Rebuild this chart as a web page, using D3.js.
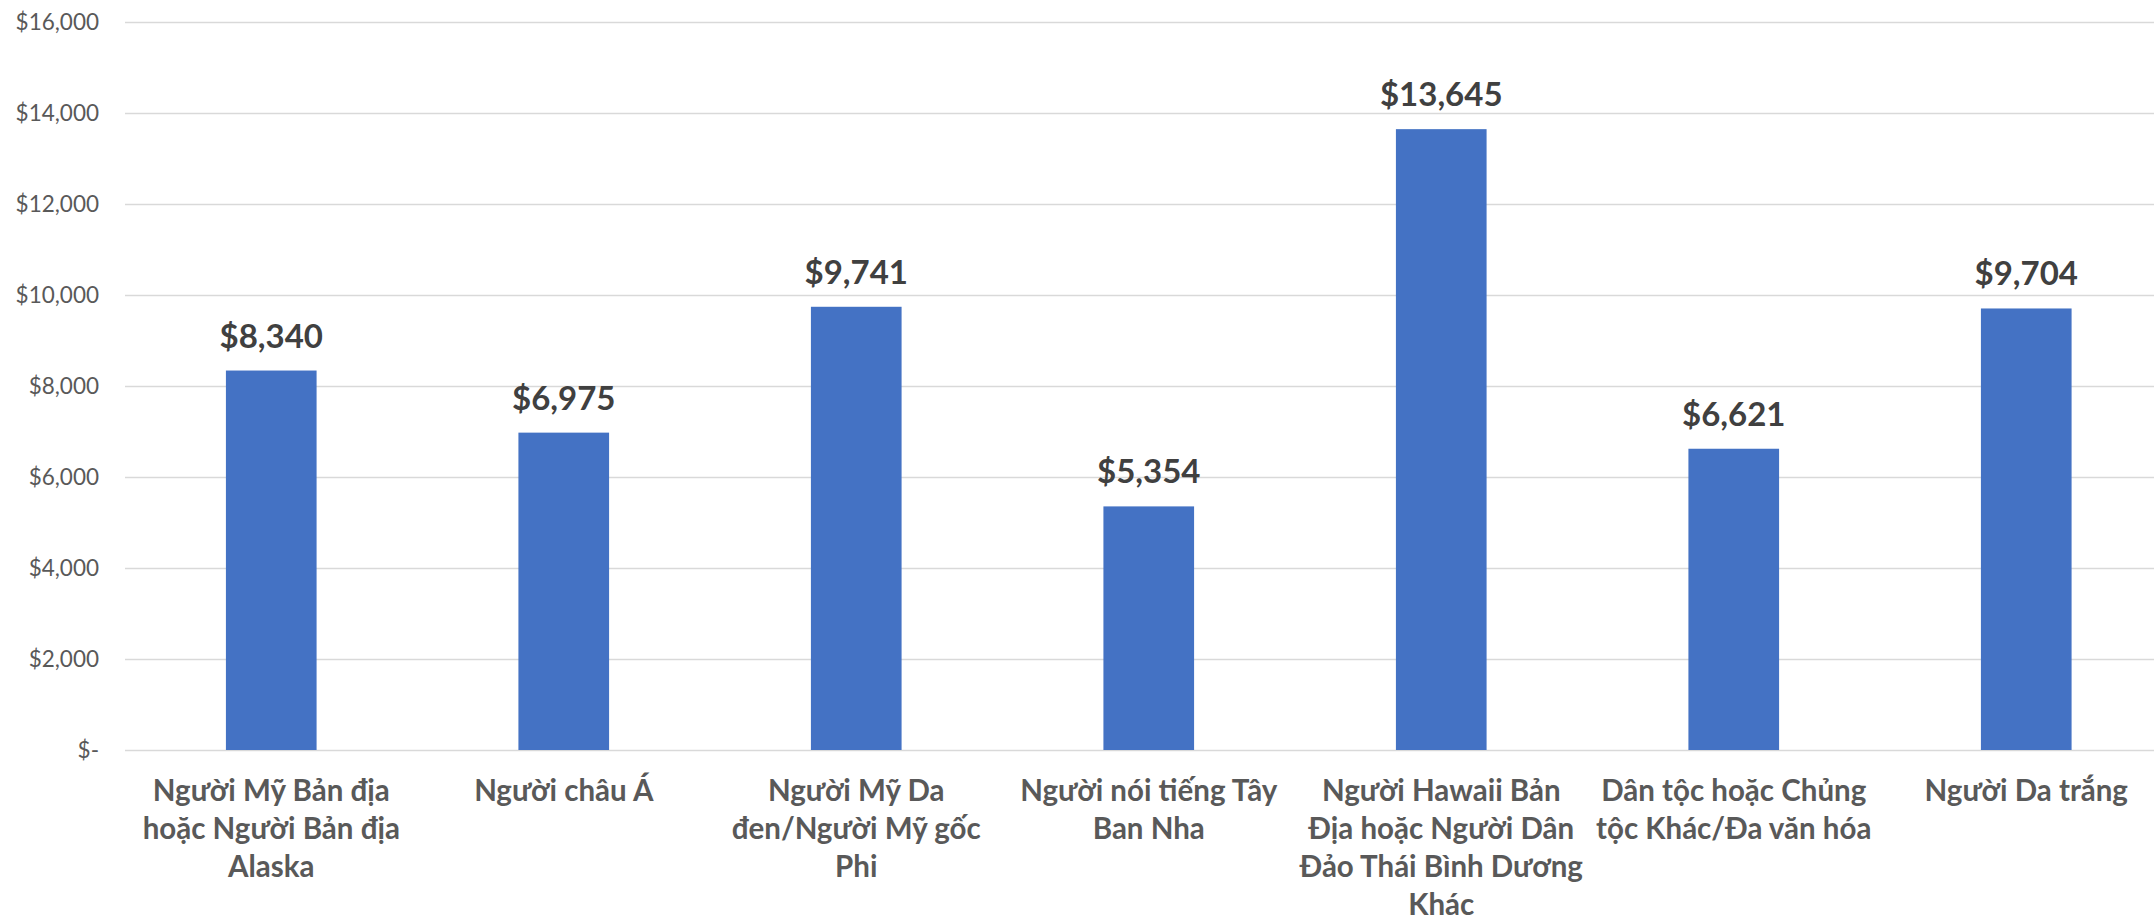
<!DOCTYPE html>
<html>
<head>
<meta charset="utf-8">
<script src="https://cdn.jsdelivr.net/npm/d3@7"></script>
<style>
html,body{margin:0;padding:0;background:#fff;}
svg{display:block;}
</style>
</head>
<body>
<script>
const categories = [
  ["Người Mỹ Bản địa", "hoặc Người Bản địa", "Alaska"],
  ["Người châu Á"],
  ["Người Mỹ Da", "đen/Người Mỹ gốc", "Phi"],
  ["Người nói tiếng Tây", "Ban Nha"],
  ["Người Hawaii Bản", "Địa hoặc Người Dân", "Đảo Thái Bình Dương", "Khác"],
  ["Dân tộc hoặc Chủng", "tộc Khác/Đa văn hóa"],
  ["Người Da trắng"]
];
const values = [8340, 6975, 9741, 5354, 13645, 6621, 9704];
const yTicks = [0, 2000, 4000, 6000, 8000, 10000, 12000, 14000, 16000];

(function () {
const W = 2154, H = 921;
const mLeft = 125, mRight = 2172.5, mTop = 22, mBottom = 750;

const svg = d3.select("body").append("svg").attr("width", W).attr("height", H);

const x = d3.scaleBand().domain(d3.range(values.length)).range([mLeft, mRight]).paddingInner(0.69).paddingOuter(0.345);
const y = d3.scaleLinear().domain([0, 16000]).range([mBottom, mTop]);

const fmt = d3.format(",");
const yAxis = d3.axisLeft(y).tickValues(yTicks).tickSize(-(mRight - mLeft)).tickPadding(26)
  .tickFormat(d => d === 0 ? "$-" : "$" + fmt(d));

const ga = svg.append("g").attr("transform", `translate(${mLeft},0)`).call(yAxis);
ga.select(".domain").remove();
ga.selectAll(".tick line").attr("stroke", "#d9d9d9").attr("stroke-width", 1.3);
ga.selectAll(".tick text").attr("fill", "#595959").style("font-family", "Lato, 'Open Sans', sans-serif").style("font-size", "22.5px");

svg.append("g").selectAll("rect").data(values).join("rect")
  .attr("x", (d, i) => x(i)).attr("width", x.bandwidth())
  .attr("y", d => y(d)).attr("height", d => y(0) - y(d))
  .attr("fill", "#4472C4");

svg.append("g").selectAll("text").data(values).join("text")
  .attr("x", (d, i) => x(i) + x.bandwidth() / 2)
  .attr("y", d => y(d) - 23)
  .attr("text-anchor", "middle")
  .attr("fill", "#404040")
  .style("font-family", "Lato, 'Open Sans', sans-serif")
  .style("font-weight", "bold").style("font-size", "33px")
  .text(d => "$" + fmt(d));

const xl = svg.append("g").selectAll("text").data(categories).join("text")
  .attr("x", (d, i) => x(i) + x.bandwidth() / 2)
  .attr("y", 801)
  .attr("text-anchor", "middle")
  .attr("fill", "#595959")
  .style("font-family", "Lato, 'Open Sans', sans-serif")
  .style("font-weight", "bold").style("font-size", "29.5px");
xl.selectAll("tspan").data(d => d).join("tspan")
  .attr("x", function() { return this.parentNode.getAttribute("x"); })
  .attr("dy", (d, i) => i === 0 ? 0 : 38)
  .text(d => d);
})();
</script>
</body>
</html>
